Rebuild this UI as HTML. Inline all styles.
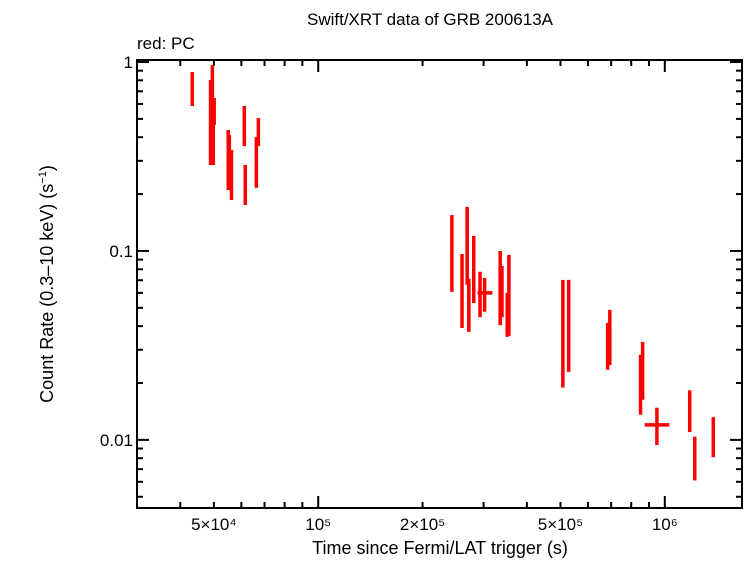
<!DOCTYPE html>
<html><head><meta charset="utf-8"><style>
body{margin:0;background:#fff;}
svg text{font-family:"Liberation Sans",sans-serif;fill:#000;}
</style></head><body>
<svg id="chart" width="746" height="558" xmlns="http://www.w3.org/2000/svg">
<text x="430" y="25" font-size="17" text-anchor="middle">Swift/XRT data of GRB 200613A</text>
<text x="137" y="49" font-size="17">red: PC</text>
<text x="440" y="554" font-size="18" text-anchor="middle">Time since Fermi/LAT trigger (s)</text>
<text transform="translate(53,284) rotate(-90)" font-size="18" text-anchor="middle">Count Rate (0.3–10 keV) (s<tspan font-size="11" dy="-7">−1</tspan><tspan dy="7">)</tspan></text>
<g id="axes"></g>
<g id="marks"></g>
</svg>
<script>
const times=[4.33e4,4.89e4,4.95e4,4.98e4,5.01e4,5.5e4,5.54e4,5.62e4,6.12e4,6.16e4,6.63e4,6.72e4,
2.43e5,2.60e5,2.69e5,2.72e5,2.81e5,2.93e5,3.02e5,3.35e5,3.39e5,3.51e5,3.55e5,5.08e5,5.28e5,6.84e5,6.94e5,8.51e5,8.63e5,9.49e5,1.18e6,1.22e6,1.38e6];
const timeLo=[4.31e4,4.86e4,4.92e4,4.95e4,4.98e4,5.48e4,5.52e4,5.6e4,6.1e4,6.14e4,6.61e4,6.7e4,
2.42e5,2.59e5,2.68e5,2.71e5,2.80e5,2.92e5,2.88e5,3.34e5,3.38e5,3.50e5,3.54e5,5.06e5,5.26e5,6.82e5,6.92e5,8.48e5,8.6e5,8.75e5,1.175e6,1.215e6,1.375e6];
const timeHi=[4.35e4,4.92e4,4.98e4,5.01e4,5.04e4,5.52e4,5.56e4,5.64e4,6.14e4,6.18e4,6.65e4,6.74e4,
2.44e5,2.61e5,2.70e5,2.73e5,2.82e5,2.94e5,3.18e5,3.36e5,3.40e5,3.52e5,3.56e5,5.10e5,5.30e5,6.86e5,6.96e5,8.54e5,8.66e5,1.03e6,1.185e6,1.225e6,1.385e6];
const rates=[0.729,0.629,0.711,0.493,0.557,0.303,0.268,0.237,0.37,0.268,0.30,0.40,
0.0766,0.0551,0.0896,0.0703,0.0793,0.0607,0.0600,0.0622,0.0622,0.0551,0.0551,0.0250,0.0338,0.0338,0.0317,0.0226,0.0235,0.0120,0.0113,0.0084,0.0106];
const rateLo=[0.585,0.285,0.464,0.285,0.464,0.210,0.216,0.186,0.359,0.175,0.216,0.359,
0.0607,0.0391,0.0662,0.0373,0.0530,0.0446,0.0477,0.0405,0.0446,0.0351,0.0355,0.0189,0.0229,0.0235,0.0249,0.0136,0.0163,0.0094,0.0110,0.0061,0.0081];
const rateHi=[0.885,0.803,0.964,0.645,0.645,0.437,0.411,0.342,0.585,0.285,0.401,0.505,
0.155,0.0964,0.171,0.0711,0.120,0.0776,0.0720,0.100,0.0833,0.0600,0.0953,0.0703,0.0703,0.0416,0.0488,0.0282,0.0330,0.0148,0.0183,0.0104,0.0132];
const xTickVals=[5e4,1e5,2e5,5e5,1e6];
const xTickLabels=["5×10⁴","10⁵","2×10⁵","5×10⁵","10⁶"];
const yTickVals=[1,0.1,0.01];
const yTickLabels=["1","0.1","0.01"];

const L=137,R=742,T=60,B=508;
const xMin=Math.log10(3.0e4),xMax=Math.log10(1.67e6);
const yMin=Math.log10(0.00436),yMax=Math.log10(1.025);
function xs(v){return L+(Math.log10(v)-xMin)/(xMax-xMin)*(R-L);}
function ys(v){return B-(Math.log10(v)-yMin)/(yMax-yMin)*(B-T);}
const NS="http://www.w3.org/2000/svg";
function mk(tag,attrs,parent){const e=document.createElementNS(NS,tag);for(const k in attrs)e.setAttribute(k,attrs[k]);parent.appendChild(e);return e;}
const ax=document.getElementById('axes'),mg=document.getElementById('marks');
const frame=mk('rect',{x:L,y:T,width:R-L,height:B-T,fill:'none',stroke:'#000','stroke-width':2},ax);


for(let e=4;e<=6;e++)for(let m=1;m<10;m++){const v=m*Math.pow(10,e);if(v<3.0e4||v>1.67e6)continue;const x=xs(v);const len=m===1?12:6;
const t1=mk('line',{x1:x,x2:x,y1:B,y2:B-len,stroke:'#000','stroke-width':2},ax);


const t2=mk('line',{x1:x,x2:x,y1:T,y2:T+len,stroke:'#000','stroke-width':2},ax);

}
for(let e=-3;e<=0;e++)for(let m=1;m<10;m++){const v=m*Math.pow(10,e);if(v<0.00436||v>1.025)continue;const y=ys(v);const len=m===1?12:6;
const t1=mk('line',{x1:L,x2:L+len,y1:y,y2:y,stroke:'#000','stroke-width':2},ax);


const t2=mk('line',{x1:R,x2:R-len,y1:y,y2:y,stroke:'#000','stroke-width':2},ax);

}
xTickVals.forEach((v,i)=>{const t=mk('text',{x:xs(v),y:530,'font-size':17,'text-anchor':'middle'},ax);t.textContent=xTickLabels[i];

});
yTickVals.forEach((v,i)=>{const t=mk('text',{x:L-4,y:ys(v)+6,'font-size':17,'text-anchor':'end'},ax);t.textContent=yTickLabels[i];

});
times.forEach((t,i)=>{const g=mk('g',{stroke:'#f00','stroke-width':3.5},mg);


const x=xs(t),y=ys(rates[i]);
mk('line',{x1:x,x2:x,y1:ys(rateHi[i]),y2:ys(rateLo[i])},g);
mk('line',{x1:xs(timeLo[i]),x2:xs(timeHi[i]),y1:y,y2:y},g);});
</script>
</body></html>
